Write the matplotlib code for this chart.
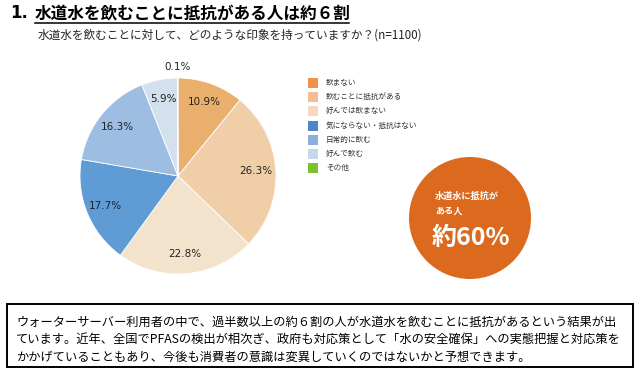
import matplotlib
matplotlib.use("Agg")
import matplotlib.pyplot as plt
from matplotlib.patches import Circle, Rectangle

plt.rcParams['font.family'] = ['Noto Sans CJK JP', 'DejaVu Sans']

categories = ["飲まない", "飲むことに抵抗がある", "好んでは飲まない", "気にならない・抵抗はない",
              "日常的に飲む", "好んで飲む", "その他"]
values = [10.9, 26.3, 22.8, 17.7, 16.3, 5.9, 0.1]
pie_colors = ["#EBAF6D", "#F0CFA8", "#F3E3CC", "#5F9BD4", "#9DBDE3", "#D3E0EE", "#7DC02B"]
legend_colors = ["#F19149", "#F6BC93", "#F9D7BF", "#4F86C6", "#8CB0DD", "#C5D7EE", "#7DC22B"]

W, H = 640, 371
fig = plt.figure(figsize=(W / 100, H / 100), dpi=100)

def fx(x): return x / W
def fy(y): return 1 - y / H

# Pie
cx, cy, r = 178, 176, 98
ax = fig.add_axes([fx(cx - r), fy(cy + r), 2 * r / W, 2 * r / H])
wedges, texts = ax.pie(values, colors=pie_colors, startangle=90, counterclock=False,
                       labels=[f"{v}%" for v in values], labeldistance=0.8,
                       wedgeprops=dict(edgecolor='white', linewidth=0.6),
                       textprops=dict(fontsize=7.5, color='#222222', family=['DejaVu Sans']))
for t in texts:
    t.set_ha('center')
    t.set_va('center')
texts[-1].set_position((0.0, 1.11))
ax.set_aspect('equal')
ax.set_xlim(-1, 1)
ax.set_ylim(-1, 1)

# Overlay axes in pixel coordinates
ov = fig.add_axes([0, 0, 1, 1], facecolor='none')
ov.set_xlim(0, W)
ov.set_ylim(H, 0)
ov.axis('off')

# Title
ov.text(10, 13, "1.", fontsize=12, fontweight='bold', va='center', ha='left', family=['DejaVu Sans'])
ov.text(35, 13, "水道水を飲むことに抵抗がある人は約６割", fontsize=12, fontweight='bold',
        va='center', ha='left')
ov.plot([35, 349], [23, 23], color='black', lw=1.1)
ov.text(38, 35, "水道水を飲むことに対して、どのような印象を持っていますか？(n=1100)",
        fontsize=8.4, va='center', ha='left', color='#222222')

# Legend
for i, (c, lab) in enumerate(zip(legend_colors, categories)):
    y = 83 + i * 14.2
    ov.add_patch(Rectangle((308, y - 5), 10, 10, facecolor=c, edgecolor='none'))
    ov.text(326, y, lab, fontsize=5.5, va='center', ha='left', color='#333333')

# Orange circle
ov.add_patch(Circle((470, 218), 61, facecolor='#DC6A1E', edgecolor='none'))
ov.text(435, 196, "水道水に抵抗が", fontsize=6.6, color='white', fontweight='bold', va='center')
ov.text(435, 211, "ある人", fontsize=6.6, color='white', fontweight='bold', va='center')
ov.text(432, 238, "約60%", fontsize=18, color='white', fontweight='bold', va='center')

# Text box
ov.add_patch(Rectangle((7, 304), 626, 63, facecolor='white', edgecolor='black', lw=1.4))
lines = ["ウォーターサーバー利用者の中で、過半数以上の約６割の人が水道水を飲むことに抵抗があるという結果が出",
         "ています。近年、全国でPFASの検出が相次ぎ、政府も対応策として「水の安全確保」への実態把握と対応策を",
         "かかげていることもあり、今後も消費者の意識は変異していくのではないかと予想できます。"]
for i, line in enumerate(lines):
    ov.text(16, 322 + i * 17.5, line, fontsize=8.8, va='center', ha='left')

fig.savefig("out.png", dpi=100)
